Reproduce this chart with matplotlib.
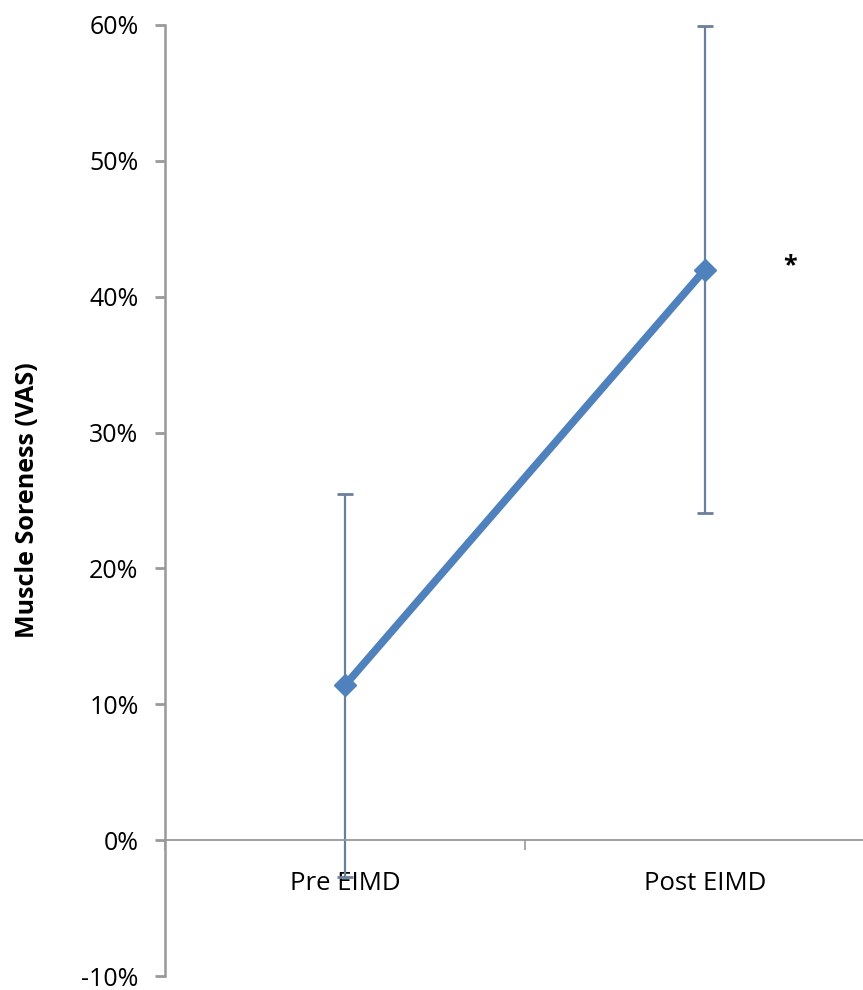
import matplotlib.pyplot as plt
from matplotlib.ticker import FuncFormatter

categories = ['Pre EIMD', 'Post EIMD']
soreness = [11.4, 42.0]
sd = [14.1, 17.9]
y_ticks = [-10, 0, 10, 20, 30, 40, 50, 60]

plt.rcParams['font.family'] = ['Open Sans', 'DejaVu Sans']

fig = plt.figure(figsize=(8.63, 9.9), dpi=100)
ax = fig.add_axes([165 / 863, 14 / 990, 1 - 165 / 863, (976 - 25) / 990])

x = list(range(len(categories)))
ax.errorbar(x, soreness, yerr=sd, fmt='none', ecolor='#6a7f9c', elinewidth=1.6,
            capsize=6, capthick=2, zorder=2)
ax.plot(x, soreness, color='#4f81bd', lw=5.5, marker='D', markersize=11,
        markeredgecolor='#4f81bd', zorder=3)

ax.text(1.236, 42.3, '*', fontsize=18, fontweight='bold', ha='center', va='center')

ax.set_yticks(y_ticks)
ax.yaxis.set_major_formatter(FuncFormatter(lambda v, p: f'{v:.0f}%'))

ax.set_xticks([-0.5, 0.5, 1.5])
ax.set_xticklabels([])
ax.set_xticks(x, minor=True)
ax.set_xticklabels(categories, minor=True)
ax.tick_params(axis='x', which='minor', length=0, pad=22, labelsize=18.5)
ax.tick_params(axis='x', which='major', length=7, width=1.2, color='#999999')
ax.tick_params(axis='y', length=7, width=2, color='#999999', labelsize=18, pad=12)

# limits after ticks so set_xticks does not widen them
ax.set_xlim(-0.5, -0.5 + (863 - 165) / 360)
ax.set_ylim(-10, 60)

ax.spines['top'].set_visible(False)
ax.spines['right'].set_visible(False)
ax.spines['bottom'].set_position(('data', 0))
ax.spines['bottom'].set_color('#999999')
ax.spines['bottom'].set_linewidth(1.3)
ax.spines['left'].set_color('#999999')
ax.spines['left'].set_linewidth(1.8)

ax.set_ylabel('Muscle Soreness (VAS)', fontsize=18, fontweight='bold', labelpad=30)

fig.savefig('out.png', dpi=100)
